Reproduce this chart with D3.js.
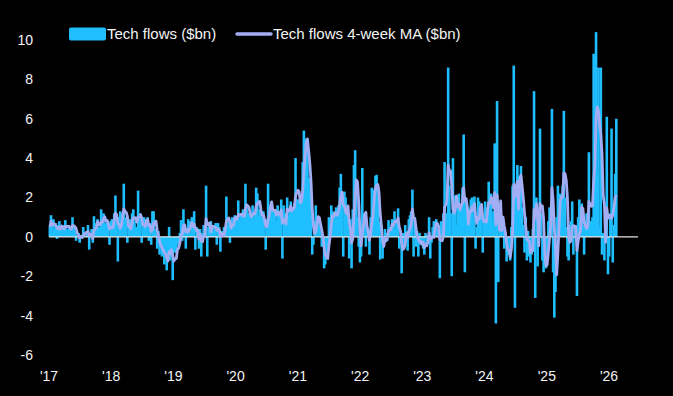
<!DOCTYPE html>
<html lang="en">
<head>
<meta charset="UTF-8">
<title>Tech flows</title>
<script src="https://d3js.org/d3.v7.min.js"></script>
<style>
  html, body { margin: 0; padding: 0; background: #000; }
  svg { display: block; }
  text { font-family: "Liberation Sans", Arial, sans-serif; fill: #f4f4f4; }
</style>
</head>
<body>
<script>
  // weekly tech flows ($bn), one array per calendar year, first week ends 6 Jan 2017
  const flows2017 = [0.5, 1.1, 0.2, 0.9, 0.4, 0.7, -0.1, 0.6, 0.8, 0.3, 0.5, 0.2, 0.6, 0.85, 0.4, 0.3, 0.6, 0.5, 0.2, 1.0, 0.6, 0.3, -0.2, 0.1, 0.2, -0.3, 0.1, -0.1, 0.5, 0.2, 0.0, 0.3, 0.6, -0.65, 0.2, 0.4, -0.3, 1.05, 0.4, 0.7, 0.9, 0.5, 0.3, 1.4, 0.8, 1.2, 0.7, 0.5, 0.9, 0.6, -0.4, 0.8];
  const flows2018 = [0.9, 0.6, 1.2, 2.1, 0.7, -1.25, 1.0, 1.3, 1.2, 0.5, 2.7, 0.8, 1.0, -0.3, 0.6, 0.9, 0.4, 1.2, 1.4, 0.8, 0.5, 0.3, 2.35, 0.9, 1.0, -0.3, 0.8, 1.0, 0.6, 0.9, 1.0, -0.2, 0.7, -0.4, 1.3, 1.3, 0.4, 0.2, -0.6, 0.3, -0.9, -0.5, -1.0, -0.3, -1.4, -0.8, -1.7, -1.0, 0.5, -1.2, -0.9, -2.2];
  const flows2019 = [-0.6, -0.8, -0.8, -0.4, -0.3, 0.2, 0.85, -0.2, 1.4, 0.4, -0.6, 0.3, 0.9, 0.8, 0.2, 1.0, 0.1, 1.3, -0.65, 0.5, 0.3, -0.6, 0.4, -1.0, 0.2, 0.6, 0.3, 2.6, -1.0, 0.5, 0.7, 0.8, 0.2, 0.4, 0.6, 0.7, -0.4, 0.7, 0.5, -0.75, 0.3, 0.2, 0.5, 0.4, 2.05, 0.6, 0.8, -0.3, 0.7, 1.0, 0.9, 1.1];
  const flows2020 = [1.0, 0.6, 1.85, 0.9, 1.2, 0.7, 1.4, 0.9, 2.7, 1.5, 1.2, 0.6, 1.3, 1.0, 1.6, 0.9, 1.2, 2.5, 2.2, 1.1, 1.4, 0.8, 1.0, 1.3, 0.5, -0.65, 0.9, 2.7, 1.5, 1.1, 1.8, 1.0, 1.4, 1.2, 0.8, 1.6, 1.3, 0.7, 1.9, -1.1, 1.6, 1.2, 0.9, 2.0, 1.1, 1.4, 1.8, 1.0, 1.5, 1.7, 4.0, 1.9];
  const flows2021 = [1.9, 1.4, 1.7, 2.2, 3.8, 5.4, 5.0, 4.9, 4.6, 3.0, 2.4, 1.2, -0.9, -0.4, 0.8, 1.6, 0.7, 1.0, 0.6, 0.3, -0.5, -0.3, -1.6, -1.4, -0.9, -0.5, 1.0, 0.4, 1.6, 1.3, 0.8, 1.2, 1.5, 0.9, 1.6, 2.5, 3.2, 1.8, -1.0, 2.3, 2.0, 1.4, 0.6, -1.1, 0.9, -1.6, 1.4, 3.65, 4.4, 2.1, 1.0, -0.5, -1.3];
  const flows2022 = [-1.0, 3.5, 1.2, 0.8, -0.5, 0.5, 0.2, -0.9, 1.0, 2.5, 1.8, 2.4, 3.1, 3.15, 2.0, 0.8, -1.15, 0.6, -1.1, -0.3, 0.4, 0.2, -0.2, 0.85, 0.5, 0.3, 0.9, 0.6, 1.3, 0.4, 0.7, 1.45, -0.6, -0.3, -1.85, 0.2, -0.4, 0.6, 0.3, -0.7, 0.9, 1.1, 1.3, 2.4, -1.0, 1.0, -0.5, 0.3, -1.0, 0.2, -0.4, -0.3];
  const flows2023 = [-0.6, -0.9, 0.2, -0.5, 0.1, 1.0, -1.1, -0.3, 0.5, 0.8, 0.6, 0.9, 0.4, 0.2, -2.1, 0.8, 0.3, 1.2, 3.8, 1.2, 1.0, 8.6, 2.6, 1.2, -2.0, 4.0, 1.6, 2.1, 0.6, 1.8, 2.2, 0.9, 1.4, 2.5, 5.2, -1.8, 1.9, 1.0, 1.5, 0.7, 1.9, 2.0, 0.8, 2.05, -0.6, 0.5, 2.0, 1.8, 1.6, 1.2, -0.8, 1.1];
  const flows2024 = [1.8, 0.9, 1.5, 2.8, 1.6, 2.2, 0.8, 1.3, 4.75, -4.4, 6.9, -2.3, 1.2, 1.5, 0.9, 0.4, -0.6, 0.2, -1.25, -0.9, -0.8, -1.2, 0.5, 2.6, 8.7, -3.6, 2.5, 3.65, 3.1, 2.2, 3.6, 1.5, 0.6, -0.8, 1.0, -1.2, 0.3, -1.0, -1.3, -0.9, 0.4, 7.4, -3.1, 2.0, -1.5, 0.8, 5.5, 1.2, -1.2, -1.8, -1.3, -1.6];
  const flows2025 = [-1.0, 0.8, 1.5, 1.2, 6.5, -1.8, -4.1, -2.8, 1.0, 2.6, 1.5, 2.2, 1.8, 2.6, 6.4, 2.0, 0.5, -1.0, -1.2, 0.6, 0.8, 1.8, -0.9, 0.5, 0.6, -3.0, 1.0, 1.9, 1.5, 1.7, 0.6, -0.9, 0.8, 1.2, 0.9, 4.3, 0.2, 0.8, 1.0, 9.3, 3.5, 10.4, 3.2, 8.6, 0.5, 8.6, -0.9, 0.2, -1.2, 0.8, 6.1, -1.9];
  const flows2026 = [-1.0, 1.2, 5.5, -1.3, 0.6, 3.2, 6.0];

  const firstWeek = new Date(2017, 0, 6);
  const yTicks = [-6, -4, -2, 0, 2, 4, 6, 8, 10];
  const yearTicks = [2017, 2018, 2019, 2020, 2021, 2022, 2023, 2024, 2025, 2026];
  const legendNames = ["Tech flows ($bn)", "Tech flows 4-week MA ($bn)"];

  const width = 673, height = 396;
  const barColor = "#1fbfff";
  const maColor = "#a3adf4";

  const flows = [].concat(flows2017, flows2018, flows2019, flows2020, flows2021,
                          flows2022, flows2023, flows2024, flows2025, flows2026);

  const data = flows.map((v, i) => ({
      date: d3.timeDay.offset(firstWeek, 7 * i),
      value: v,
      ma: d3.mean(flows.slice(Math.max(0, i - 3), i + 1))   // trailing 4-week average
  }));

  const x = d3.scaleTime()
      .domain([new Date(2017, 0, 1), new Date(2026, 0, 1)])
      .range([49, 609]);
  const y = d3.scaleLinear()
      .domain([-6, 10])
      .range([355, 40]);

  const svg = d3.select("body")
      .append("svg")
      .attr("width", width)
      .attr("height", height)
      .style("background", "#000");

  // bars (a little wider than a week so they merge like the original)
  svg.append("g")
      .selectAll("rect")
      .data(data)
      .enter().append("rect")
      .attr("x", d => x(d.date) - 1.3)
      .attr("width", 2.6)
      .attr("y", d => y(Math.max(0, d.value)))
      .attr("height", d => Math.abs(y(d.value) - y(0)))
      .attr("fill", barColor);

  // zero line runs a bit past the last week
  svg.append("line")
      .attr("x1", x(new Date(2017, 0, 1)))
      .attr("x2", x(new Date(2026, 5, 20)))
      .attr("y1", y(0))
      .attr("y2", y(0))
      .attr("stroke", "#e6e6e6")
      .attr("stroke-width", 1.3);

  // moving average
  const line = d3.line()
      .x(d => x(d.date))
      .y(d => y(d.ma));

  svg.append("path")
      .datum(data)
      .attr("d", line)
      .attr("fill", "none")
      .attr("stroke", maColor)
      .attr("stroke-width", 2.8)
      .attr("stroke-linejoin", "round");

  // y labels
  svg.append("g")
      .selectAll("text")
      .data(yTicks)
      .enter().append("text")
      .attr("x", 33)
      .attr("y", d => y(d))
      .attr("dy", "0.35em")
      .attr("text-anchor", "end")
      .style("font-size", "14px")
      .text(d => d);

  // x labels
  svg.append("g")
      .selectAll("text")
      .data(yearTicks)
      .enter().append("text")
      .attr("x", d => x(new Date(d, 0, 1)))
      .attr("y", 381)
      .attr("text-anchor", "middle")
      .style("font-size", "14px")
      .text(d => "'" + String(d).slice(2));

  // legend
  const legend = svg.append("g");
  legend.append("rect")
      .attr("x", 69).attr("y", 27.5)
      .attr("width", 37).attr("height", 13)
      .attr("rx", 2)
      .attr("fill", barColor);
  legend.append("text")
      .attr("x", 107).attr("y", 39)
      .style("font-size", "15px")
      .text(legendNames[0]);
  legend.append("line")
      .attr("x1", 237).attr("x2", 271)
      .attr("y1", 34).attr("y2", 34)
      .attr("stroke", maColor)
      .attr("stroke-width", 3.5)
      .attr("stroke-linecap", "round");
  legend.append("text")
      .attr("x", 273).attr("y", 39)
      .style("font-size", "15px")
      .text(legendNames[1]);
</script>
</body>
</html>
